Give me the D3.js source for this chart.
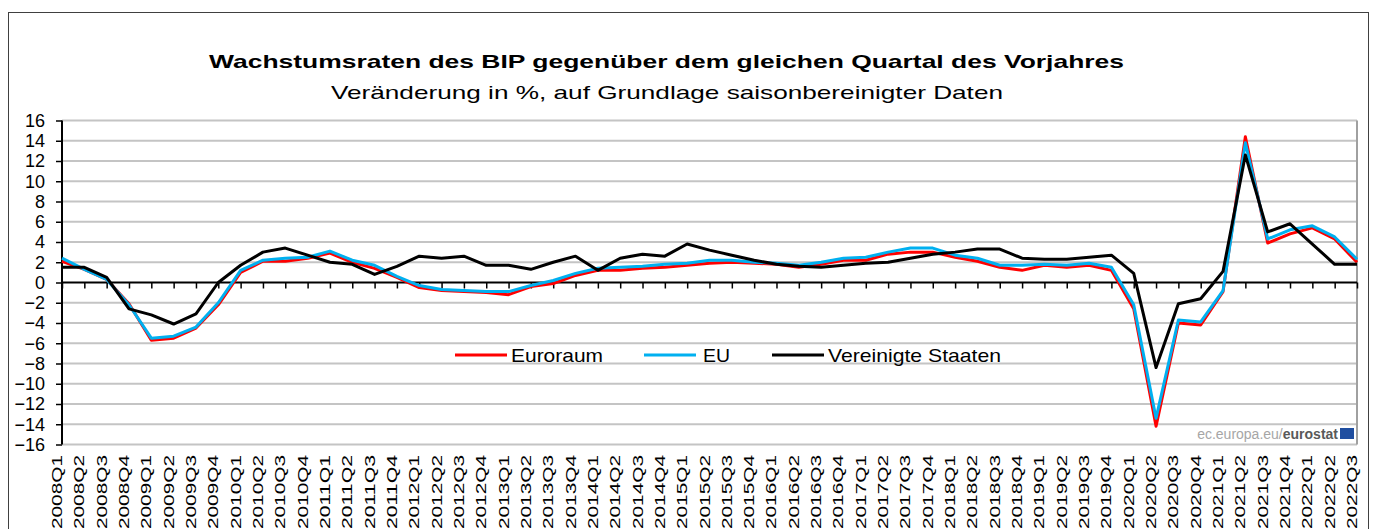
<!DOCTYPE html>
<html>
<head>
<meta charset="utf-8">
<script src="https://cdn.jsdelivr.net/npm/d3@7"></script>
<style>
  body { margin: 0; background: #fff; }
  svg { display: block; font-family: Arial, "Liberation Sans", sans-serif; }
</style>
</head>
<body>
<svg id="chart" width="1375" height="529"></svg>
<script>
width = 1375;
height = 529;

// quarters 2008Q1 .. 2022Q3
var years = d3.range(2008, 2023);
var quarterNames = ['Q1', 'Q2', 'Q3', 'Q4'];
var categories = [];
years.forEach(y => quarterNames.forEach(q => categories.push(y + q)));
categories = categories.slice(0, 59);

var euroraum = [2.1,1.3,0.3,-2.1, -5.7,-5.5,-4.5,-2.2, 1.0,2.1,2.1,2.4, 2.9,2.0,1.4,0.5,
  -0.5,-0.8,-0.9,-1.0, -1.2,-0.4,-0.1,0.7, 1.2,1.2,1.4,1.5, 1.7,1.9,2.0,1.9,
  1.8,1.5,1.8,2.2, 2.2,2.8,3.0,3.0, 2.5,2.1,1.5,1.2, 1.7,1.5,1.7,1.2,
  -2.6,-14.2,-4.0,-4.2, -0.9,14.4,3.9,4.8, 5.4,4.3,2.0];
var eu = [2.4,1.3,0.3,-2.2, -5.5,-5.3,-4.4,-2.0, 1.2,2.2,2.4,2.5, 3.1,2.2,1.7,0.6,
  -0.3,-0.7,-0.8,-0.9, -0.9,-0.3,0.2,0.9, 1.4,1.5,1.6,1.8, 1.9,2.2,2.2,2.0,
  1.9,1.7,2.0,2.4, 2.5,3.0,3.4,3.4, 2.7,2.4,1.7,1.7, 1.8,1.7,1.9,1.5,
  -2.2,-13.4,-3.7,-3.9, -0.8,13.8,4.3,5.2, 5.6,4.5,2.3];
var usa = [1.5,1.5,0.5,-2.6, -3.2,-4.1,-3.1,0.0, 1.7,3.0,3.4,2.7, 2.0,1.8,0.8,1.6,
  2.6,2.4,2.6,1.7, 1.7,1.3,2.0,2.6, 1.2,2.4,2.8,2.6, 3.8,3.2,2.7,2.2,
  1.8,1.6,1.5,1.7, 1.9,2.0,2.4,2.8, 3.0,3.3,3.3,2.4, 2.3,2.3,2.5,2.7,
  0.9,-8.4,-2.1,-1.6, 1.1,12.6,5.0,5.8, 3.8,1.8,1.8];

var yTicks = d3.range(-16, 17, 2);

var series = [
  {name: 'Euroraum', values: euroraum, color: '#ff0000'},
  {name: 'EU', values: eu, color: '#00b0f0'},
  {name: 'Vereinigte Staaten', values: usa, color: '#000000'}
];

var plotLeft = 62, plotRight = 1357, plotTop = 120.5, plotBottom = 444.5;

var svg = d3.select('#chart');

// outer frame
svg.append('rect')
  .attr('x', 8.5).attr('y', 12.5)
  .attr('width', 1360).attr('height', 540)
  .attr('fill', 'none')
  .attr('stroke', '#404040')
  .attr('stroke-width', 1);

// titles
function fitText(sel, w) {
  sel.attr('textLength', w).attr('lengthAdjust', 'spacingAndGlyphs');
}
svg.append('text')
  .attr('x', 209).attr('y', 68)
  .attr('font-size', 19).attr('font-weight', 'bold')
  .attr('fill', '#000')
  .text('Wachstumsraten des BIP gegenüber dem gleichen Quartal des Vorjahres')
  .call(fitText, 915);
svg.append('text')
  .attr('x', 331).attr('y', 99)
  .attr('font-size', 19)
  .attr('fill', '#000')
  .text('Veränderung in %, auf Grundlage saisonbereinigter Daten')
  .call(fitText, 672);

var x = d3.scalePoint().domain(categories).range([plotLeft, plotRight]);
var y = d3.scaleLinear().domain([-16, 16]).range([plotBottom, plotTop]);

// grid
svg.append('g')
  .selectAll('line')
  .data(yTicks.filter(d => d !== 0))
  .join('line')
  .attr('x1', plotLeft).attr('x2', plotRight)
  .attr('y1', d => y(d)).attr('y2', d => y(d))
  .attr('stroke', '#c4c4c4')
  .attr('stroke-width', 2);

// plot border right
svg.append('line')
  .attr('x1', plotRight).attr('x2', plotRight)
  .attr('y1', plotTop).attr('y2', plotBottom)
  .attr('stroke', '#a0a0a0').attr('stroke-width', 2);

// y axis
var yAxis = svg.append('g')
  .attr('transform', `translate(${plotLeft},0)`)
  .call(d3.axisLeft(y).tickValues(yTicks).tickSize(6).tickPadding(4).tickFormat(d3.format('d')));
yAxis.select('.domain').attr('stroke', '#000').attr('stroke-width', 2)
  .attr('d', `M0,${plotTop}V${plotBottom}`);
yAxis.selectAll('.tick line').attr('stroke', '#000').attr('stroke-width', 1.5);
yAxis.selectAll('.tick text')
  .attr('font-size', 18)
  .attr('fill', '#000')
  .attr('font-family', 'Arial, "Liberation Sans", sans-serif')
  .attr('x', -17);

// zero line with ticks
var xAxis = svg.append('g')
  .attr('transform', `translate(0,${y(0)})`)
  .call(d3.axisBottom(x).tickSize(6).tickFormat(''));
xAxis.select('.domain').attr('stroke', '#000').attr('stroke-width', 2)
  .attr('d', `M${plotLeft},0H${plotRight}`);
xAxis.selectAll('.tick line').attr('stroke', '#000').attr('stroke-width', 1.5);

// x labels (bottom, rotated)
svg.append('g')
  .selectAll('text')
  .data(categories)
  .join('text')
  .attr('transform', d => `translate(${x(d)},455) rotate(-90)`)
  .attr('text-anchor', 'end')
  .attr('font-size', 15)
  .attr('fill', '#000')
  .text(d => d)
  .call(fitText, 74);

// lines
var line = d3.line()
  .x((d, i) => x(categories[i]))
  .y(d => y(d));

svg.append('g')
  .selectAll('path')
  .data(series)
  .join('path')
  .attr('d', d => line(d.values))
  .attr('fill', 'none')
  .attr('stroke', d => d.color)
  .attr('stroke-width', 3)
  .attr('stroke-linejoin', 'round');

// legend
var legendPos = [
  {lx: 455, tx: 511, tw: 92},
  {lx: 644, tx: 703, tw: 27},
  {lx: 772, tx: 828, tw: 173}
];
var legend = svg.append('g');
series.forEach((s, i) => {
  var p = legendPos[i];
  legend.append('line')
    .attr('x1', p.lx).attr('x2', p.lx + 52)
    .attr('y1', 355).attr('y2', 355)
    .attr('stroke', s.color).attr('stroke-width', 3);
  legend.append('text')
    .attr('x', p.tx).attr('y', 362)
    .attr('font-size', 19)
    .attr('fill', '#000')
    .text(s.name)
    .call(fitText, p.tw);
});

// source
var src = svg.append('text')
  .attr('x', 1338).attr('y', 439)
  .attr('text-anchor', 'end')
  .attr('font-size', 14);
src.append('tspan').attr('fill', '#a6a6a6').text('ec.europa.eu/');
src.append('tspan').attr('fill', '#595959').attr('font-weight', 'bold').text('eurostat');
svg.append('rect')
  .attr('x', 1340).attr('y', 428)
  .attr('width', 14).attr('height', 11)
  .attr('fill', '#1f4ea0');
</script>
</body>
</html>
